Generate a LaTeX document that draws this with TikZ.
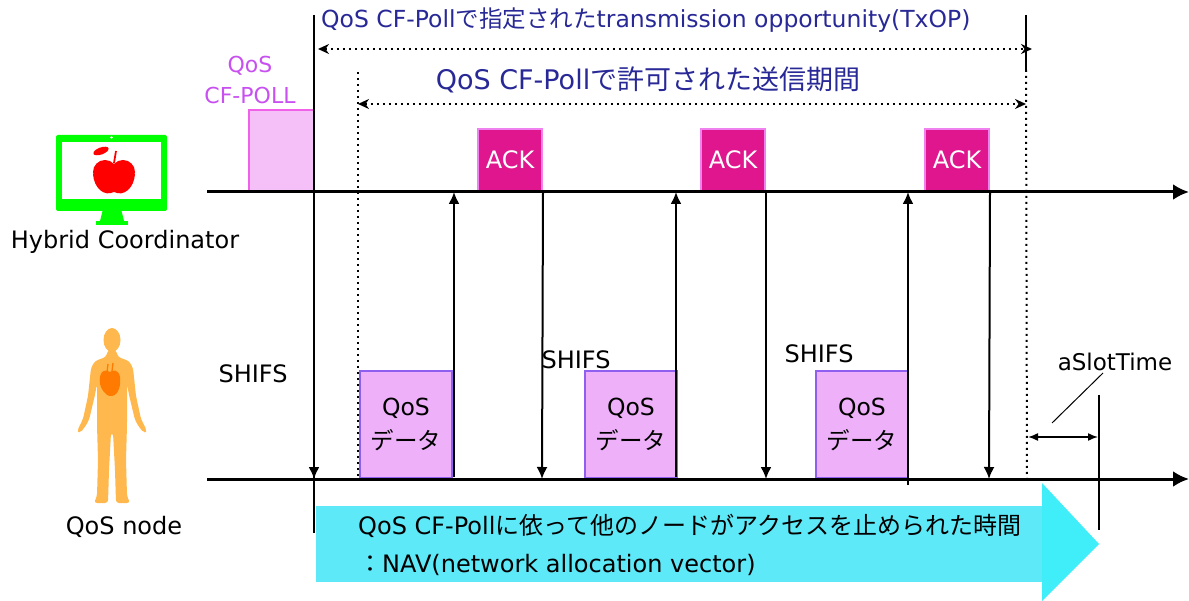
\documentclass[tikz,border=0pt]{standalone}
\usepackage{fontspec}
\setmainfont{DejaVu Sans}
\newfontfamily\jp{Noto Sans CJK JP}
\usetikzlibrary{arrows.meta}

\definecolor{titleblue}{RGB}{40,40,150}
\definecolor{pollviolet}{RGB}{200,80,240}
\definecolor{pollfill}{RGB}{245,192,248}
\definecolor{polledge}{RGB}{240,96,232}
\definecolor{ackfill}{RGB}{224,22,143}
\definecolor{ackedge}{RGB}{240,130,240}
\definecolor{datafill}{RGB}{238,176,248}
\definecolor{dataedge}{RGB}{143,95,240}
\definecolor{navbody}{RGB}{94,233,248}
\definecolor{navhead}{RGB}{63,238,248}
\definecolor{screen}{RGB}{0,255,0}
\definecolor{applered}{RGB}{255,0,0}
\definecolor{skin}{RGB}{255,184,77}
\definecolor{heart}{RGB}{255,122,0}

\tikzset{
  axis/.style={line width=3pt,-{Latex[length=16pt,width=16pt]}},
  vline/.style={line width=2pt},
  dnarrow/.style={vline,-{Latex[length=12pt,width=11pt]}},
  dotline/.style={line width=2pt,dash pattern=on 2pt off 4pt},
  dotarrow/.style={line width=2pt,dash pattern=on 2pt off 4pt,
    {Stealth[length=11pt,width=10pt]}-{Stealth[length=11pt,width=10pt]}},
  pollbox/.style={draw=polledge,fill=pollfill,line width=2pt,inner sep=0pt},
  ackbox/.style={draw=ackedge,fill=ackfill,line width=2pt,text=white,
    inner sep=0pt,minimum width=64pt,minimum height=62pt,
    font=\fontsize{24}{28}\selectfont},
  databox/.style={draw=dataedge,fill=datafill,line width=2pt,inner sep=0pt,
    minimum width=92pt,minimum height=107pt,align=center,
    font=\fontsize{23.5}{34}\selectfont},
  plain/.style={inner sep=0pt,font=\fontsize{24}{28}\selectfont},
}

\begin{document}
\begin{tikzpicture}[x=1pt,y=-1pt]
\useasboundingbox (0,0) rectangle (1189,601);

% ---------- time axes ----------
\coordinate (hcL) at (207,192);
\coordinate (hcR) at (1189,192);
\coordinate (qnL) at (207,479);
\coordinate (qnR) at (1189,479);

% ---------- frames on the coordinator line ----------
\node[pollbox,anchor=south west,minimum width=65pt,minimum height=81pt] (poll) at (248,192) {};
\node[ackbox,anchor=south west] (ack1) at (477,192) {ACK};
\node[ackbox,anchor=south west] (ack2) at (700,192) {ACK};
\node[ackbox,anchor=south west] (ack3) at (924,192) {ACK};

% ---------- frames on the node line ----------
\node[databox,anchor=south west] (dat1) at (359,479) {QoS\\{\jp データ}};
\node[databox,anchor=south west] (dat2) at (584,479) {QoS\\{\jp データ}};
\node[databox,anchor=south west] (dat3) at (815,479) {QoS\\{\jp データ}};

\draw[axis] (hcL) -- (hcR);
\draw[axis] (qnL) -- (qnR);

% ---------- NAV arrow ----------
\fill[navbody] (316,506) rectangle (1043,582);
\fill[navhead] (1042,483) -- (1099,544) -- (1042,601) -- cycle;
\node[plain,anchor=west] (nav1) at (358,526)
  {QoS CF-Poll{\jp に依って他のノードがアクセスを止められた時間}};
\node[plain,anchor=west] (nav2) at (358,565)
  {{\jp ：}NAV(network allocation vector)};

% ---------- TxOP boundaries ----------
\coordinate (txS) at (314,15);
\coordinate (txE) at (1026,15);
\coordinate (txEm) at (1026,70);
\coordinate (pdS) at (358,72);
\coordinate (pdE) at (1027,479);
\draw[vline] (txS) -- (314,533);
\draw[dnarrow] (314,192) -- (314,479);
\draw[vline] (txE) -- (txEm);
\draw[dotline] (txEm) -- (pdE);
\draw[dotline] (pdS) -- (358,479);

\draw[dotarrow] (318,49) -- (1032,49);
\draw[dotarrow] (358,104) -- (1026,104);

\node[plain,anchor=west,text=titleblue,font=\fontsize{23.5}{28}\selectfont] (txop) at (321,20)
  {QoS CF-Poll{\jp で指定された}transmission opportunity(TxOP)};
\node[plain,text=titleblue,font=\fontsize{27}{32}\selectfont] (period) at (648,80)
  {QoS CF-Poll{\jp で許可された送信期間}};

\node[plain,text=pollviolet,align=center,font=\fontsize{22}{31}\selectfont] (polllbl) at (250,80)
  {QoS\\CF-POLL};

% ---------- data / ack exchanges ----------
\coordinate (up1a) at (454,477); \coordinate (up1b) at (454,192);
\coordinate (up2a) at (676,477); \coordinate (up2b) at (676,192);
\coordinate (up3a) at (908,485); \coordinate (up3b) at (908,192);
\draw[dnarrow] (up1a) -- (up1b);
\draw[dnarrow] (up2a) -- (up2b);
\draw[dnarrow] (up3a) -- (up3b);
\draw[dnarrow] (ack1.south east) -- (542,479);
\draw[dnarrow] (ack2.south east) -- (766,479);
\draw[dnarrow] (ack3.south east) -- (989,479);

\node[plain] (sh1) at (253,374) {SHIFS};
\node[plain] (sh2) at (576,360) {SHIFS};
\node[plain] (sh3) at (819,354) {SHIFS};

% ---------- slot time ----------
\coordinate (slotT) at (1099,395);
\coordinate (slotB) at (1099,530);
\draw[line width=1.3pt] (slotT) -- (slotB);
\draw[line width=1.5pt,{Latex[length=10pt,width=8pt]}-{Latex[length=10pt,width=8pt]}] (1028,437) -- (1098,437);
\node[plain,font=\fontsize{23}{28}\selectfont] (slot) at (1115,362) {aSlotTime};
\coordinate (lead) at (1052,423);
\draw[line width=1pt] (lead) -- (1103,373);

% ---------- hybrid coordinator icon ----------
\fill[screen] (96,221) rectangle (128,225);
\fill[screen] (103,209) -- (121,209) -- (124,221) -- (100,221) -- cycle;
\fill[screen,rounded corners=2pt] (56,135) rectangle (167,211);
\fill[white] (62,142) rectangle (161,199);
\fill[white] (111.5,137.5) circle (1.3);
% apple
\fill[applered] (105,172) circle (12);
\fill[applered] (123,172) circle (12);
\fill[applered] (93,174) .. controls (94,188) and (104,197) .. (114,192)
  .. controls (124,197) and (134,188) .. (135,174) -- cycle;
\draw[applered,line width=1.8pt] (114,163) -- (116,151);
\fill[applered,rotate around={20:(101,151)}] (101,151) ellipse (8 and 3.5);
\node[plain] (hclbl) at (125,242) {Hybrid Coordinator};

% ---------- QoS node icon ----------
\fill[skin] (112,340) ellipse (8.5 and 12);
\fill[skin,rounded corners=3pt]
  (108,350) -- (106,357) -- (95,361) -- (91,368) -- (88,396) -- (83,419)
  -- (77,431) -- (80,433) -- (85,427) -- (89,420) -- (95,395) -- (97,384)
  -- (97,425) -- (98,460) -- (97,496) -- (94,503) -- (108,503) -- (109,470)
  -- (111,433) -- (113,433) -- (115,470) -- (116,503) -- (130,503) -- (127,496)
  -- (126,460) -- (127,425) -- (127,384) -- (129,395) -- (135,420) -- (139,427)
  -- (144,433) -- (147,431) -- (141,419) -- (136,396) -- (133,368) -- (129,361)
  -- (118,357) -- (116,350) -- cycle;
\fill[heart] (110,372) .. controls (100,366) and (98,380) .. (101,387)
  .. controls (104,394) and (109,397) .. (112,396)
  .. controls (119,395) and (121,384) .. (120,377)
  .. controls (119,370) and (113,369) .. (110,372) -- cycle;
\draw[heart,line width=1.3pt] (107,372) -- (108,364);
\draw[heart,line width=1.3pt] (112,371) -- (113,363);
\node[plain] (qnlbl) at (124,527) {QoS node};
\end{tikzpicture}
\end{document}
